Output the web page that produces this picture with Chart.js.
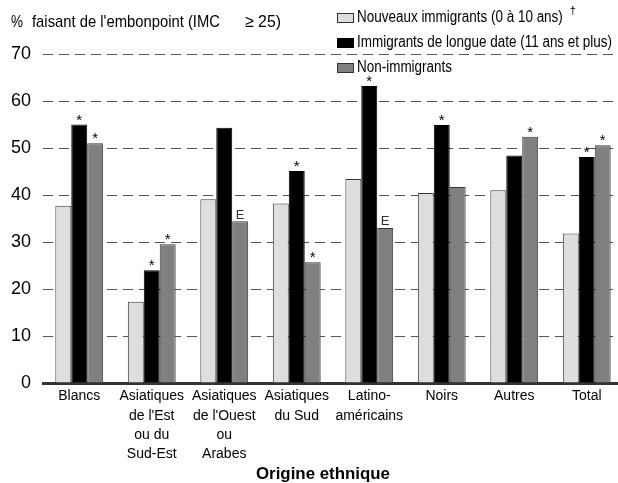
<!DOCTYPE html>
<html>
<head>
<meta charset="utf-8">
<script src="https://cdn.jsdelivr.net/npm/chart.js@4/dist/chart.umd.min.js"></script>
<style>
  html, body { margin: 0; padding: 0; background: #fff; overflow: hidden; }
  #wrap { width: 618px; height: 483px; position: relative; overflow: hidden; }
</style>
</head>
<body>
<div id="wrap"><canvas id="c" width="623" height="483"></canvas></div>
<script>
const FONT = "'Liberation Sans', Arial, sans-serif";

const categories = [
  ['Blancs'],
  ['Asiatiques', "de l'Est", 'ou du', 'Sud-Est'],
  ['Asiatiques', "de l'Ouest", 'ou', 'Arabes'],
  ['Asiatiques', 'du Sud'],
  ['Latino-', 'américains'],
  ['Noirs'],
  ['Autres'],
  ['Total']
];

const seriesNames = [
  'Nouveaux immigrants (0 à 10 ans)',
  'Immigrants de longue date (11 ans et plus)',
  'Non-immigrants'
];

const newImmigrants  = [37.7, 17.3, 39.1, 38.2, 43.4, 40.4, 41.0, 31.8];
const longTermImmig  = [55.0, 24.0, 54.3, 45.1, 63.2, 54.9, 48.4, 48.1];
const nonImmigrants  = [51.0, 29.5, 34.4, 25.7, 33.0, 41.7, 52.4, 50.6];

// significance / quality flags drawn above each bar ('' = none)
const flagsNew  = ['', '', '', '', '', '', '', ''];
const flagsLong = ['*', '*', '', '*', '*', '*', '', '*'];
const flagsNon  = ['*', '*', 'E', '*', 'E', '', '*', '*'];

const yTicks = [0, 10, 20, 30, 40, 50, 60, 70];

const fills = ['#dedede', '#000000', '#808080'];

// draws text squeezed horizontally to a given width (narrow lettering)
function narrowText(ctx, text, x, y, size, width, weight) {
  ctx.font = (weight ? weight + ' ' : '') + size + 'px ' + FONT;
  const w = ctx.measureText(text).width;
  const sx = width / w;
  ctx.save();
  ctx.translate(x, y);
  ctx.scale(sx, 1);
  ctx.fillText(text, 0, 0);
  ctx.restore();
  return sx;
}

function narrowTextScaled(ctx, text, x, y, size, sx, weight) {
  ctx.font = (weight ? weight + ' ' : '') + size + 'px ' + FONT;
  ctx.save();
  ctx.translate(x, y);
  ctx.scale(sx, 1);
  ctx.fillText(text, 0, 0);
  ctx.restore();
  return ctx.measureText(text).width * sx;
}

const flagPlugin = {
  id: 'flags',
  afterDatasetsDraw(chart) {
    const ctx = chart.ctx;
    const sets = [flagsNew, flagsLong, flagsNon];
    ctx.save();
    ctx.textAlign = 'center';
    ctx.textBaseline = 'alphabetic';
    sets.forEach((flags, di) => {
      const meta = chart.getDatasetMeta(di);
      meta.data.forEach((bar, i) => {
        const f = flags[i];
        if (!f) return;
        const star = f === '*';
        ctx.font = (star ? '15px ' : '13px ') + FONT;
        ctx.fillStyle = star ? '#000' : '#333';
        const m = ctx.measureText(f);
        const mid = (m.actualBoundingBoxAscent - m.actualBoundingBoxDescent) / 2;
        const gap = star ? 7 : 7;
        ctx.fillText(f, bar.x, bar.y - gap + mid);
      });
    });
    ctx.restore();
  }
};

const textPlugin = {
  id: 'texts',
  afterDraw(chart) {
    const ctx = chart.ctx;
    ctx.save();
    ctx.fillStyle = '#000';
    ctx.textBaseline = 'middle';
    ctx.textAlign = 'left';
    // y-axis title
    narrowText(ctx, '%', 11, 22, 17, 12);
    narrowText(ctx, "faisant de l'embonpoint (IMC", 32, 22, 17, 188);
    narrowText(ctx, '\u2265 25)', 245, 22, 17, 36);
    // x-axis title
    narrowText(ctx, 'Origine ethnique', 256, 475, 16, 134, 'bold');
    // legend
    const rows = [18, 43, 68];
    ctx.font = '16px ' + FONT;
    const sx = 255 / ctx.measureText(seriesNames[1]).width;
    chart.data.datasets.forEach((ds, i) => {
      const y = rows[i];
      ctx.fillStyle = ds.backgroundColor;
      ctx.fillRect(337.5, y - 4.5, 16, 9);
      ctx.strokeStyle = i === 1 ? '#000' : '#333';
      ctx.lineWidth = 1;
      ctx.strokeRect(337.5, y - 4.5, 16, 9);
      ctx.fillStyle = '#000';
      const w = narrowTextScaled(ctx, ds.label, 357, y, 16, sx);
      if (i === 0) {
        ctx.font = '11px ' + FONT;
        ctx.fillText('\u2020', 357 + w + 7, y - 7);
      }
    });
    ctx.restore();
  }
};

new Chart(document.getElementById('c'), {
  type: 'bar',
  data: {
    labels: categories,
    datasets: [newImmigrants, longTermImmig, nonImmigrants].map((vals, i) => ({
      label: seriesNames[i],
      data: vals,
      backgroundColor: fills[i],
      borderColor: i === 1 ? '#000' : '#3a3a3a',
      borderWidth: 1,
      borderSkipped: 'bottom',
      categoryPercentage: 0.66,
      barPercentage: 1.0
    }))
  },
  options: {
    responsive: false,
    animation: false,
    devicePixelRatio: 1,
    layout: { padding: { top: 54, right: 0, left: 0, bottom: 0 } },
    plugins: {
      legend: { display: false },
      tooltip: { enabled: false }
    },
    scales: {
      x: {
        grid: { display: false, drawTicks: false },
        border: { display: true, color: '#333', width: 3 },
        ticks: {
          color: '#000',
          font: { family: FONT, size: 14, lineHeight: 1.37 },
          padding: 4,
          maxRotation: 0,
          autoSkip: false
        },
        afterFit(scale) { scale.height = 100; }
      },
      y: {
        min: 0,
        max: 70,
        afterBuildTicks(scale) { scale.ticks = yTicks.map(v => ({ value: v })); },
        grid: {
          color: '#555',
          lineWidth: 1,
          drawTicks: false
        },
        border: { display: false, dash: [10, 6] },
        ticks: {
          color: '#000',
          font: { family: FONT, size: 18 },
          padding: 12
        },
        afterFit(scale) { scale.width = 43; }
      }
    }
  },
  plugins: [flagPlugin, textPlugin]
});
</script>
</body>
</html>
